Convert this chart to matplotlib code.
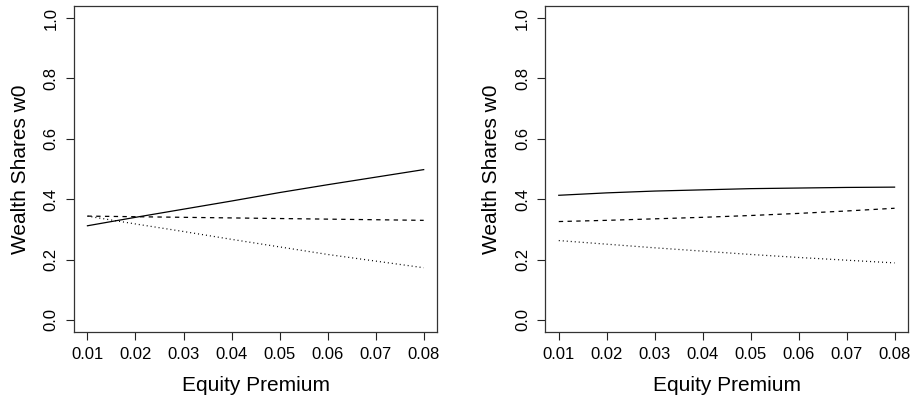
import matplotlib
matplotlib.use("Agg")
import matplotlib.pyplot as plt
import numpy as np

plt.rcParams['font.family'] = ['Liberation Sans', 'DejaVu Sans']

premium = [0.01, 0.02, 0.03, 0.04, 0.05, 0.06, 0.07, 0.08]

# Panel 1
left_solid = [0.312, 0.340, 0.367, 0.394, 0.422, 0.448, 0.473, 0.498]
left_dashed = [0.344, 0.342, 0.340, 0.338, 0.336, 0.334, 0.332, 0.330]
left_dotted = [0.344, 0.318, 0.293, 0.267, 0.242, 0.217, 0.195, 0.173]

# Panel 2
right_solid = [0.413, 0.421, 0.427, 0.431, 0.435, 0.437, 0.439, 0.440]
right_dashed = [0.326, 0.330, 0.335, 0.340, 0.346, 0.353, 0.361, 0.370]
right_dotted = [0.263, 0.251, 0.239, 0.228, 0.217, 0.207, 0.198, 0.189]

x_ticks = [0.01, 0.02, 0.03, 0.04, 0.05, 0.06, 0.07, 0.08]
x_tick_labels = ["0.01", "0.02", "0.03", "0.04", "0.05", "0.06", "0.07", "0.08"]
y_ticks = [0.0, 0.2, 0.4, 0.6, 0.8, 1.0]
y_tick_labels = ["0.0", "0.2", "0.4", "0.6", "0.8", "1.0"]

fig = plt.figure(figsize=(9.17, 4.01), dpi=100)
ax1 = fig.add_axes([0.0807, 0.172, 0.396, 0.813])
ax2 = fig.add_axes([0.5947, 0.172, 0.3955, 0.813])

panels = [(ax1, left_solid, left_dashed, left_dotted),
          (ax2, right_solid, right_dashed, right_dotted)]

for ax, solid, dashed, dotted in panels:
    ax.plot(premium, solid, color='black', lw=0.9, linestyle='-')
    ax.plot(premium, dashed, color='black', lw=0.9, linestyle=(0, (3.5, 3.5)))
    ax.plot(premium, dotted, color='black', lw=0.9, linestyle=(0, (0.8, 2.4)))
    ax.set_xlim(0.0072, 0.0828)
    ax.set_ylim(-0.04, 1.04)
    ax.set_xticks(x_ticks)
    ax.set_xticklabels(x_tick_labels, fontsize=12)
    ax.set_yticks(y_ticks)
    ax.set_yticklabels(y_tick_labels, fontsize=12, rotation=90, va='center')
    ax.tick_params(direction='out', length=6, width=0.8, colors='#222222',
                   labelcolor='black', pad=5)
    for sp in ax.spines.values():
        sp.set_linewidth(0.9)
        sp.set_color('#333333')
    ax.set_xlabel("Equity Premium", fontsize=15, labelpad=10)
    ax.set_ylabel("Wealth Shares w0", fontsize=15, labelpad=10)

fig.savefig("out.png", dpi=100)
